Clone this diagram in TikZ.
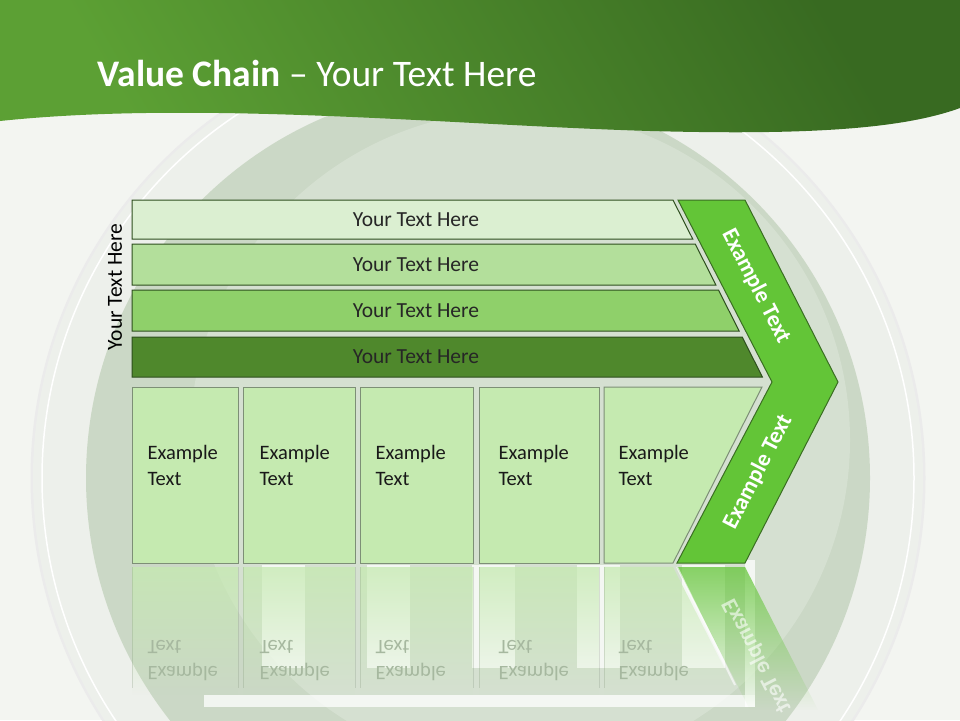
\documentclass[tikz,border=0pt]{standalone}
\usepackage{fontspec}
\setmainfont{Carlito}
\usetikzlibrary{fadings}

\definecolor{hdrlight}{HTML}{5CA034}
\definecolor{hdrdark}{HTML}{386A21}
\definecolor{bgpale}{HTML}{F3F5F1}
\definecolor{ringcol}{HTML}{EDF0EB}
\definecolor{diskcol}{HTML}{CBD8C6}
\definecolor{innercol}{HTML}{D5E0D1}
\definecolor{barA}{HTML}{DBEFD1}
\definecolor{barB}{HTML}{B3DF9B}
\definecolor{barC}{HTML}{8FD06A}
\definecolor{barD}{HTML}{4F882C}
\definecolor{boxfill}{HTML}{C5EAB0}
\definecolor{boxline}{HTML}{7D8F76}
\definecolor{chevfill}{HTML}{63C537}
\definecolor{chevline}{HTML}{3A6E22}
\definecolor{barline}{HTML}{2E4F1E}
\definecolor{refltext}{HTML}{A6B89F}

\tikzfading[name=reflfade, top color=transparent!25, bottom color=transparent!100]

\begin{document}
\begin{tikzpicture}[
    x=1pt, y=-1pt,
    bar/.style={draw=barline, line width=1pt},
    box/.style={fill=boxfill, draw=boxline, line width=1pt},
    bar_label/.style={font=\fontsize{21.5}{24}\selectfont, text=black!85},
    box_label/.style={anchor=west, align=left, font=\fontsize{20.5}{26}\selectfont, text=black!90},
    refl_label/.style={anchor=west, align=left, font=\fontsize{20.5}{26}\selectfont, text=refltext, yscale=-1},
    chev_label/.style={font=\bfseries\fontsize{23}{26}\selectfont, text=white},
    strip/.style={fill=white, fill opacity=0.75}
]
    \clip (0,0) rectangle (960,720);

    % Background discs
    \fill[bgpale] (0,0) rectangle (960,720);
    \draw[black!8, line width=3pt] (478,478) circle (446);
    \fill[ringcol] (478,478) circle (445);
    \draw[white, line width=1.5pt] (478,478) circle (436);
    \fill[diskcol] (478,478) circle (392);
    \fill[innercol] (520,440) circle (330);

    % White strips seen through the reflection
    \foreach \sx in {262,367,472,577,682}
        \fill[strip] (\sx,565) rectangle (\sx+43,668);
    \fill[strip] (745,560) rectangle (755,707);
    \fill[strip] (204,695) rectangle (755,707);

    % Header band
    \path[top color=hdrdark, bottom color=hdrlight, shading angle=-60]
        (0,0) -- (960,0) -- (960,108)
        .. controls (900,130) and (800,135) .. (650,131)
        .. controls (450,125) and (200,100) .. (0,121) -- cycle;
    \node[anchor=west, text=white, font=\fontsize{37.5}{42}\selectfont] (title) at (94,73)
        {\textbf{Value Chain} -- Your Text Here};

    % Stacked bars with slanted right ends
    \foreach \i/\yt/\yb/\col in {1/200/239/barA, 2/244/285/barB, 3/290/331/barC, 4/337/377/barD} {
        \draw[bar, fill=\col] (132,\yt) -- ({673+0.505*(\yt-200)},\yt)
            -- ({673+0.505*(\yb-200)},\yb) -- (132,\yb) -- cycle;
        \node[bar_label] (bar\i) at (416,{(\yt+\yb)/2}) {Your Text Here};
    }
    \node[bar_label, text=black, rotate=90] (side) at (115,287) {Your Text Here};

    % Activity boxes
    \foreach \i/\xl/\xr/\xt in {1/132/238/144, 2/243/355/256, 3/360/473/372, 4/479/599/495} {
        \draw[box] (\xl,387) rectangle (\xr,563);
        \node[box_label] (box\i) at (\xt,465) {Example\\Text};
    }
    \draw[box] (604,387) -- (762,387) -- (673,563) -- (604,563) -- cycle;
    \node[box_label] (box5) at (615,465) {Example\\Text};

    % Chevron
    \draw[fill=chevfill, draw=chevline, line width=1pt]
        (678,200) -- (745,200) -- (838,382) -- (745,563) -- (677,563) -- (772,382) -- cycle;
    \node[chev_label, rotate=-62.8] (chev1) at (756,286) {Example Text};
    \node[chev_label, rotate=62.8] (chev2) at (758,472) {Example Text};

    % Reflection below the boxes
    \foreach \xl/\xr in {132/238, 243/355, 360/473, 479/599}
        \fill[boxfill, path fading=reflfade] (\xl,567) rectangle (\xr,695);
    \fill[boxfill, path fading=reflfade] (604,567) -- (673,567) -- (738,695) -- (604,695) -- cycle;
    \foreach \xl in {132,238,243,355,360,473,479,599,604}
        \draw[boxline, opacity=0.25] (\xl,567) -- (\xl,688);
    \fill[chevfill, path fading=reflfade] (677,567) -- (745,567) -- (818,710) -- (750,710) -- cycle;
    \draw[white, line width=2pt, opacity=0.6] (677,567) -- (735,685);
    \foreach \i/\xt in {1/144, 2/256, 3/372, 4/495, 5/615}
        \node[refl_label] (refl\i) at (\xt,661) {Example\\Text};
    \node[chev_label, text=white, opacity=0.6, rotate=-62.8, yscale=-1] (reflchev) at (757,656) {Example Text};

\end{tikzpicture}
\end{document}
